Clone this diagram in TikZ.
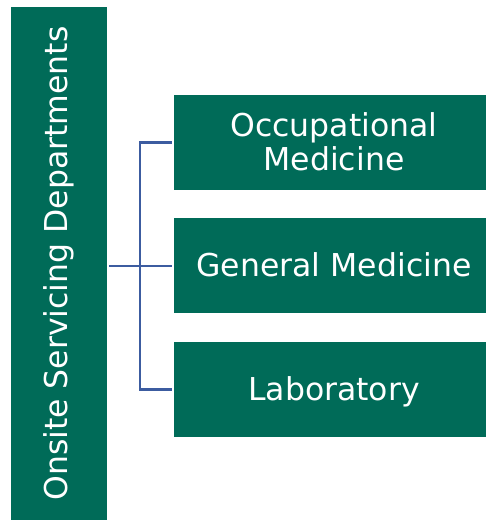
\documentclass[tikz,border=0pt]{standalone}
\usepackage{fontspec}
\setmainfont{DejaVu Sans}
\definecolor{boxgreen}{RGB}{0,107,88}
\definecolor{lineblue}{RGB}{60,92,160}
\newcommand\shiftedtext[1]{\hspace*{8pt}\raisebox{-4pt}[\height][\depth]{\begin{tabular}{@{}c@{}}#1\end{tabular}}}
\begin{document}
\begin{tikzpicture}[x=1pt,y=-1pt,
  gbox/.style={fill=boxgreen, draw=none, text=white, inner sep=0pt,
    font=\fontsize{31.5}{34}\selectfont},
  conn/.style={draw=lineblue, line width=2.6pt}]
\useasboundingbox (0,0) rectangle (486,521);
\node[gbox, minimum width=513pt, minimum height=96pt, rotate=90] (dept) at (59,263.5) {Onsite Servicing Departments};
\node[gbox, minimum width=312pt, minimum height=95pt] (occ) at (330,142.5) {\shiftedtext{Occupational\\[-0.5pt]Medicine}};
\node[gbox, minimum width=312pt, minimum height=95pt] (gen) at (330,265.5) {\shiftedtext{General Medicine}};
\node[gbox, minimum width=312pt, minimum height=95pt] (lab) at (330,389.5) {\shiftedtext{Laboratory}};
\coordinate (bus) at (140,266);
\draw[conn] ([xshift=2pt]dept.south |- bus) -- ([xshift=-2pt]gen.west |- bus);
\draw[conn] ([xshift=-2pt]occ.west) -- (bus |- occ.west) -- (bus |- lab.west) -- ([xshift=-2pt]lab.west);
\end{tikzpicture}
\end{document}
